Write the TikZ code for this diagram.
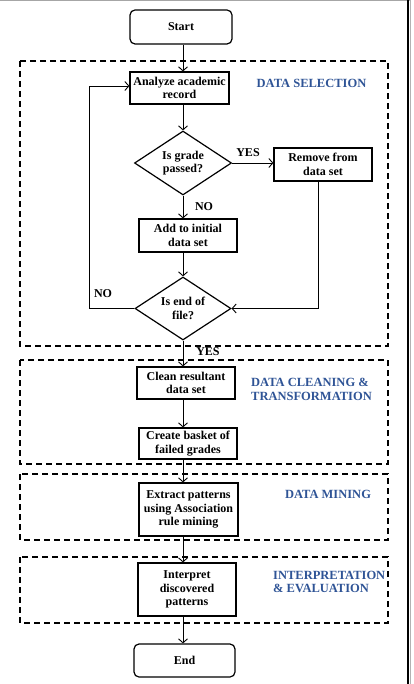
\documentclass[tikz,border=0pt]{standalone}
\usepackage{fontspec}
\setmainfont{Liberation Serif}
\usetikzlibrary{arrows.meta,shapes.geometric,calc}
\definecolor{phase}{RGB}{47,84,150}
\tikzset{
  box/.style={draw,line width=1.2pt,align=center,inner sep=0pt,font=\bfseries\fontsize{12}{13.5}\selectfont},
  term/.style={box,rounded corners=5pt},
  dec/.style={draw,diamond,line width=1.2pt,align=center,inner sep=0pt,aspect=1.5,font=\bfseries\fontsize{12}{13.5}\selectfont},
  phasebox/.style={draw,dashed,dash pattern=on 6pt off 4pt,line width=1.3pt},
  phaselbl/.style={text=phase,font=\bfseries\fontsize{12.5}{13.5}\selectfont,align=left,inner sep=0pt},
  lbl/.style={font=\bfseries\fontsize{12}{13}\selectfont,inner sep=0pt},
  arr/.style={line width=0.9pt,-{Straight Barb[length=4pt,width=9pt,line width=0.9pt]}},
  ln/.style={line width=0.9pt}
}
\begin{document}
\begin{tikzpicture}[x=1pt,y=-1pt]
\useasboundingbox (0,0) rectangle (414,684);
% frame
\draw[gray!70,line width=1pt] (0,0.5) -- (410,0.5);
\draw[black,line width=2pt] (407.5,0) -- (407.5,684);
\draw[gray!60,line width=0.8pt] (410,0) -- (410,684);
% phase boxes
\draw[phasebox] (20,61) rectangle (388,346);
\draw[phasebox] (20,360) rectangle (388,464);
\draw[phasebox] (20,474) rectangle (388,540);
\draw[phasebox] (20,557) rectangle (388,623);
% phase labels
\node[phaselbl] (l1) at (311.5,83) {DATA SELECTION};
\node[phaselbl,anchor=west] (l2) at (251,389.5) {DATA CLEANING \&\\TRANSFORMATION};
\node[phaselbl] (l3) at (328,494) {DATA MINING};
\node[phaselbl,anchor=west] (l4) at (273,582) {INTERPRETATION\\\& EVALUATION};
% nodes
\node[term,minimum width=102pt,minimum height=34pt] (start) at (181,27) {Start};
\node[box,minimum width=99pt,minimum height=32pt] (analyze) at (179.5,88) {Analyze academic\\record};
\node[dec,minimum width=97pt,minimum height=64pt] (d1) at (183,163) {Is grade\\passed?};
\node[box,minimum width=98pt,minimum height=33pt] (remove) at (323,164.5) {Remove from\\data set};
\node[box,minimum width=98pt,minimum height=33pt] (add) at (188,235.5) {Add to initial\\data set};
\node[dec,minimum width=96pt,minimum height=63pt] (d2) at (183,308.5) {Is end of\\file?};
\node[box,minimum width=98pt,minimum height=32pt] (clean) at (186,383) {Clean resultant\\data set};
\node[box,minimum width=98pt,minimum height=31pt] (basket) at (188,443.5) {Create basket of\\failed grades};
\node[box,minimum width=99pt,minimum height=53pt] (extract) at (188.5,509.5) {Extract patterns\\using Association\\rule mining};
\node[box,minimum width=98pt,minimum height=53pt] (interp) at (187,589.5) {Interpret\\discovered\\patterns};
\node[term,minimum width=101pt,minimum height=33pt] (end) at (184.5,660.5) {End};
% edge labels
\node[lbl] (yes1) at (248,153) {YES};
\node[lbl] (no1) at (204,207) {NO};
\node[lbl] (no2) at (103,294) {NO};
\node[lbl] (yes2) at (208,352) {YES};
% loop coordinates
\coordinate (lp) at (89,308.5);
% connectors
\draw[arr] (d1 |- start.south) -- (d1 |- analyze.north);
\draw[arr] (d1 |- analyze.south) -- (d1.north);
\draw[arr] (d1.east) -- (remove.west |- d1.east);
\draw[arr] (d1.south) -- (d1 |- add.north);
\draw[arr] (d1 |- add.south) -- (d2.north);
\draw[arr] (318,181) -- (318,308.5) -- (d2.east);
\draw[arr] (d2.west) -- (lp) -- (lp |- 0,86) -- (analyze.west |- 0,86);
\draw[arr] (d2.south) -- (d2 |- clean.north);
\draw[arr] (d2 |- clean.south) -- (d2 |- basket.north);
\draw[arr] (d2 |- basket.south) -- (d2 |- extract.north);
\draw[arr] (d2 |- extract.south) -- (d2 |- interp.north);
\draw[arr] (d2 |- interp.south) -- (d2 |- end.north);
\end{tikzpicture}
\end{document}
